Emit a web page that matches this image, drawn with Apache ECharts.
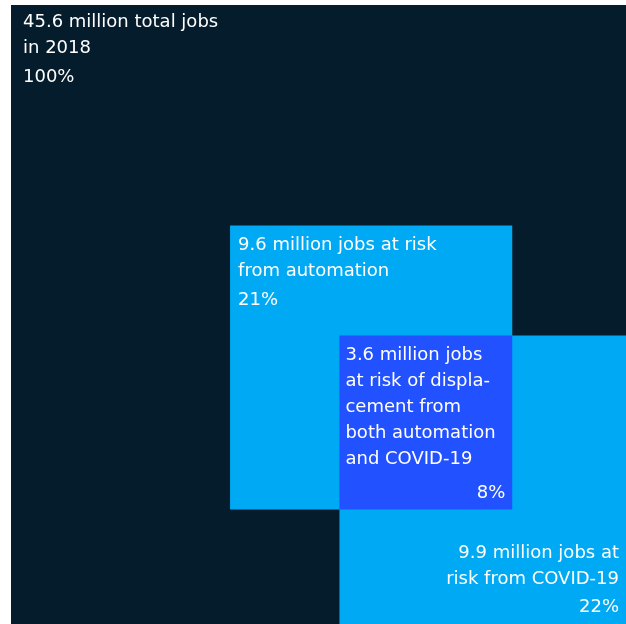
<!DOCTYPE html>
<html>
<head>
<meta charset="utf-8">
<script src="https://cdn.jsdelivr.net/npm/echarts@6/dist/echarts.min.js"></script>
<style>
html,body{margin:0;padding:0;background:#ffffff;}
#chart{width:626px;height:624px;}
</style>
</head>
<body>
<div id="chart"></div>
<script>
// Categories (order: total, automation, COVID-19, overlap of both)
const categories = ['Total jobs in 2018', 'At risk from automation', 'At risk from COVID-19', 'At risk from both'];
const jobsMillions = [45.6, 9.6, 9.9, 3.6];
const shareLabels = ['100%', '21%', '22%', '8%'];
const descLabels = [
  '45.6 million total jobs\nin 2018',
  '9.6 million jobs at risk\nfrom automation',
  '9.9 million jobs at\nrisk from COVID-19',
  '3.6 million jobs\nat risk of displa-\ncement from\nboth automation\nand COVID-19'
];
const colors = ['#051c2c', '#00a9f4', '#00a9f4', '#2251ff'];

// Squares sized by area = jobs; side = sqrt(jobs)
const S = Math.sqrt(jobsMillions[0]);
const a = Math.sqrt(jobsMillions[1]);
const c = Math.sqrt(jobsMillions[2]);
const o = Math.sqrt(jobsMillions[3]);
// COVID square anchored at bottom-right of total; automation overlaps it by the "both" square
const covidX0 = S - c, covidY0 = S - c;
const autoX1 = covidX0 + o, autoY1 = covidY0 + o;
const rects = [
  [0, 0, S, S],
  [autoX1 - a, autoY1 - a, autoX1, autoY1],
  [covidX0, covidY0, S, S],
  [covidX0, covidY0, autoX1, autoY1]
];
const drawOrder = [0, 1, 2, 3];
const seriesData = drawOrder.map(i => ({ name: categories[i], value: rects[i].concat([i]) }));

const FONT = '"DejaVu Sans", sans-serif';
const txtStyle = (extra) => Object.assign({
  fill: '#ffffff', fontSize: 18, fontFamily: FONT, fontWeight: 'normal', lineHeight: 26
}, extra);

const chart = echarts.init(document.getElementById('chart'), null, { renderer: 'canvas' });
chart.setOption({
  animation: false,
  grid: { left: 11, top: 5, right: 0, bottom: 0 },
  xAxis: { type: 'value', min: 0, max: S, show: false },
  yAxis: { type: 'value', min: 0, max: S, inverse: true, show: false },
  series: [{
    type: 'custom',
    data: seriesData,
    encode: { x: [0, 2], y: [1, 3] },
    renderItem: function (params, api) {
      const p0 = api.coord([api.value(0), api.value(1)]);
      const p1 = api.coord([api.value(2), api.value(3)]);
      const idx = api.value(4);
      const x0 = p0[0], y0 = p0[1], x1 = p1[0], y1 = p1[1];
      const children = [{
        type: 'rect',
        shape: { x: x0, y: y0, width: x1 - x0, height: y1 - y0 },
        style: { fill: colors[idx] }
      }];
      if (idx === 0 || idx === 1) {
        const pad = idx === 0 ? 12 : 8;
        const top = idx === 0 ? 4 : 7;
        children.push({ type: 'text', style: txtStyle({ text: descLabels[idx], x: x0 + pad, y: y0 + top, verticalAlign: 'top', align: 'left' }) });
        children.push({ type: 'text', style: txtStyle({ text: shareLabels[idx], x: x0 + pad, y: y0 + top + 55, verticalAlign: 'top', align: 'left' }) });
      } else if (idx === 3) {
        children.push({ type: 'text', style: txtStyle({ text: descLabels[idx], x: x0 + 6, y: y0 + 7, verticalAlign: 'top', align: 'left' }) });
        children.push({ type: 'text', style: txtStyle({ text: shareLabels[idx], x: x1 - 7, y: y1 - 3, verticalAlign: 'bottom', align: 'right' }) });
      } else if (idx === 2) {
        children.push({ type: 'text', style: txtStyle({ text: descLabels[idx], x: x1 - 7, y: y1 - 32, verticalAlign: 'bottom', align: 'right' }) });
        children.push({ type: 'text', style: txtStyle({ text: shareLabels[idx], x: x1 - 7, y: y1 - 4, verticalAlign: 'bottom', align: 'right' }) });
      }
      return { type: 'group', children: children };
    }
  }]
});
</script>
</body>
</html>
